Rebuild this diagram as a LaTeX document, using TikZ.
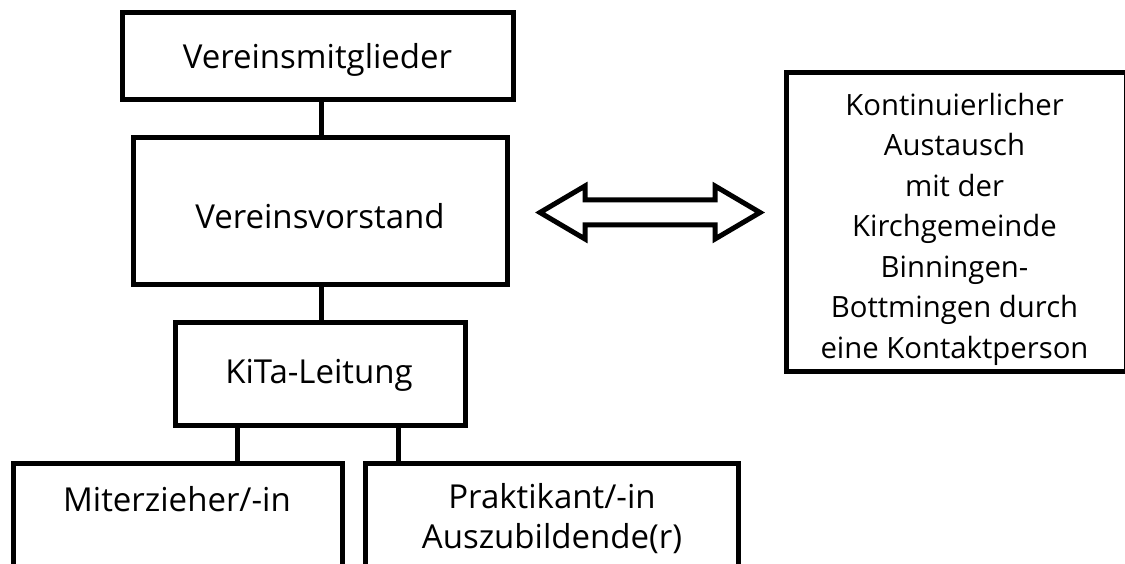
\documentclass[tikz,border=0pt]{standalone}
\usepackage{fontspec}
\setmainfont{Open Sans}
\begin{document}
\begin{tikzpicture}[x=1pt,y=-1pt,
  box/.style={draw, line width=5pt, inner sep=0pt, outer sep=0pt},
  txt/.style={font=\fontsize{33}{40}\selectfont, align=center, inner sep=0pt},
  rtxt/.style={font=\fontsize{29.3}{40.5}\selectfont, align=center, inner sep=0pt},
  conn/.style={line width=5pt}]
\useasboundingbox (0,0) rectangle (1125,564);
\clip (0,0) rectangle (1125,564);
% boxes
\node[box, minimum width=391, minimum height=87] (mg) at (317.5,56.5) {};
\node[box, minimum width=374, minimum height=147] (vs) at (320,211.5) {};
\node[box, minimum width=290, minimum height=103] (kl) at (320,373.5) {};
\node[box, minimum width=329, minimum height=160] (me) at (177.5,543) {};
\node[box, minimum width=373, minimum height=160] (pr) at (551.5,543) {};
\node[box, minimum width=340, minimum height=298] (ka) at (956,222) {};
% texts
\node[txt] (tmg) at (317.5,60) {Vereinsmitglieder};
\node[txt] (tvs) at (320,216) {Vereinsvorstand};
\node[txt] (tkl) at (319,375) {KiTa-Leitung};
\node[txt] (tme) at (177,499) {Miterzieher/-in};
\node[txt] (tpr) at (552,519) {Praktikant/-in\\Auszubildende(r)};
\node[rtxt] (tka) at (954.5,229) {Kontinuierlicher\\Austausch\\mit der\\Kirchgemeinde\\Binningen-\\Bottmingen durch\\eine Kontaktperson};
% connectors
\coordinate (x1) at (321,0);
\coordinate (x2) at (237,0);
\coordinate (x3) at (398,0);
\draw[conn] (mg.south -| x1) -- (vs.north -| x1);
\draw[conn] (vs.south -| x1) -- (kl.north -| x1);
\draw[conn] (kl.south -| x2) -- (me.north -| x2);
\draw[conn] (kl.south -| x3) -- (pr.north -| x3);
% double arrow
\draw[line width=5pt, line join=miter, fill=white]
  (540,212.5) -- (585,186) -- (585,200) -- (715,200) -- (715,186) -- (760,212.5)
  -- (715,239) -- (715,225) -- (585,225) -- (585,239) -- cycle;
\end{tikzpicture}
\end{document}
